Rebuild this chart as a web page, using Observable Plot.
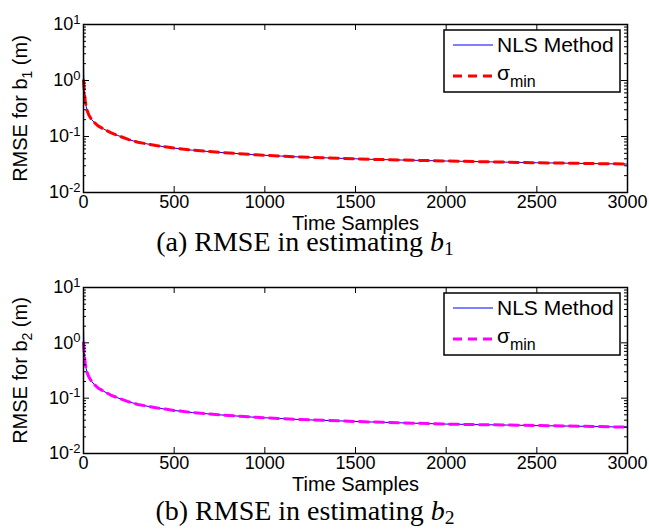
<!DOCTYPE html>
<html>
<head>
<meta charset="utf-8">
<script src="https://cdn.jsdelivr.net/npm/d3@7"></script>
<script src="https://cdn.jsdelivr.net/npm/@observablehq/plot@0.6"></script>
<style>
  html, body { margin: 0; padding: 0; background: white; }
  #wrap { position: relative; width: 649px; height: 531px; overflow: hidden; background: white; }
  .panel { position: absolute; left: 0; }
  .cap { position: absolute; left: 0; width: 610px; text-align: center; font-family: "Liberation Serif", "Times New Roman", serif; font-size: 28px; line-height: 24px; color: #000; white-space: nowrap; }
  .cap sub { font-size: 70%; vertical-align: -0.2em; line-height: 0; font-style: normal; }
</style>
</head>
<body>
<div id="wrap"></div>
<script>
// ---- data ----
const samples = [0, 1, 2, 4, 6, 10, 15, 20, 30, 45, 60, 80, 110, 150, 190, 250, 300, 400, 500, 600, 750, 950, 1200, 1600, 2000, 2500, 3000];
const nlsB1   = [2.1, 1.4, 1.0, 0.7, 0.56, 0.43, 0.34, 0.29, 0.24, 0.2, 0.178, 0.155, 0.137, 0.117, 0.104, 0.088, 0.079, 0.069, 0.062, 0.057, 0.052, 0.047, 0.043, 0.039, 0.0365, 0.034, 0.0322];
const sigB1   = [1.0, 0.9, 0.8, 0.66, 0.55, 0.43, 0.34, 0.29, 0.24, 0.2, 0.178, 0.155, 0.137, 0.117, 0.104, 0.088, 0.079, 0.069, 0.062, 0.057, 0.052, 0.047, 0.043, 0.039, 0.0365, 0.034, 0.0322];
const nlsB2   = [2.1, 1.4, 1.0, 0.7, 0.55, 0.42, 0.34, 0.29, 0.24, 0.2, 0.176, 0.153, 0.134, 0.114, 0.101, 0.086, 0.077, 0.067, 0.06, 0.055, 0.05, 0.045, 0.041, 0.037, 0.034, 0.032, 0.030];
const sigB2   = [1.0, 0.9, 0.8, 0.66, 0.55, 0.42, 0.34, 0.29, 0.24, 0.2, 0.176, 0.153, 0.134, 0.114, 0.101, 0.086, 0.077, 0.067, 0.06, 0.055, 0.05, 0.045, 0.041, 0.037, 0.034, 0.032, 0.030];
const xTicks = [0, 500, 1000, 1500, 2000, 2500, 3000];
const yTicks = [0.01, 0.1, 1, 10];
const yMinor = [0.02,0.03,0.04,0.05,0.06,0.07,0.08,0.09,0.2,0.3,0.4,0.5,0.6,0.7,0.8,0.9,2,3,4,5,6,7,8,9];
const seriesNames = ["NLS Method", "σ_min"];
const xLabel = "Time Samples";
const yLabels = ["RMSE for b_1 (m)", "RMSE for b_2 (m)"];
const captions = ["(a) RMSE in estimating <i>b</i><sub>1</sub>", "(b) RMSE in estimating <i>b</i><sub>2</sub>"];

const FONT = '"Liberation Sans", Arial, Helvetica, sans-serif';
const W = 649, ML = 83, MR = 22, MT = 24, MB = 42;

function subText(sel, str, subSize, shift) {
  const m = str.match(/^(.*?)_(\S+)(.*)$/);
  sel.text(null);
  if (!m) { sel.text(str); return; }
  sel.append("tspan").text(m[1]);
  sel.append("tspan").attr("font-size", subSize).attr("dy", shift).text(m[2]);
  if (m[3]) sel.append("tspan").attr("dy", -shift).text(m[3]);
}

function makePanel(nls, sig, dashColor, yLab, innerH) {
  const H = MT + innerH + MB;
  const innerW = W - ML - MR;
  const dN = samples.map((x, i) => ({x, y: nls[i]}));
  const dS = samples.map((x, i) => ({x, y: sig[i]}));
  const svg = Plot.plot({
    width: W, height: H, marginLeft: ML, marginRight: MR, marginTop: MT, marginBottom: MB,
    style: {fontFamily: FONT, fontSize: "18px", background: "white", color: "black", overflow: "visible"},
    x: {domain: [0, 3000]},
    y: {type: "log", domain: [0.01, 10]},
    marks: [
      Plot.lineY(dN, {x: "x", y: "y", stroke: "#0000ff", strokeWidth: 1}),
      Plot.lineY(dS, {x: "x", y: "y", stroke: dashColor, strokeWidth: 3, strokeDasharray: "9,6"}),
      Plot.tickY(yMinor, {y: d => d, insetRight: innerW - 3, stroke: "black", strokeWidth: 1}),
      Plot.tickY(yMinor, {y: d => d, insetLeft: innerW - 3, stroke: "black", strokeWidth: 1}),
      Plot.tickY(yTicks, {y: d => d, insetRight: innerW - 6, stroke: "black", strokeWidth: 1}),
      Plot.tickY(yTicks, {y: d => d, insetLeft: innerW - 6, stroke: "black", strokeWidth: 1}),
      Plot.tickX(xTicks, {x: d => d, insetBottom: innerH - 6, stroke: "black", strokeWidth: 1}),
      Plot.tickX(xTicks, {x: d => d, insetTop: innerH - 6, stroke: "black", strokeWidth: 1}),
      Plot.frame({stroke: "black", strokeWidth: 1.5}),
      Plot.axisX({ticks: xTicks, tickSize: 0, tickPadding: 3, label: null, fontSize: 18, tickFormat: d => String(d)}),
      Plot.axisY({ticks: yTicks, tickSize: 0, tickPadding: 3, label: null, fontSize: 18, tickFormat: d => "10^" + Math.round(Math.log10(d))}),
      Plot.text([xLabel], {frameAnchor: "bottom", dy: 23, lineAnchor: "top", textAnchor: "middle", text: d => d, fontSize: 20, fill: "black"}),
      Plot.text([yLab], {frameAnchor: "left", dx: -63, rotate: -90, textAnchor: "middle", lineAnchor: "middle", text: d => d, fontSize: 20, fill: "black"})
    ]
  });
  const s = d3.select(svg);
  s.selectAll('g[aria-label="y-axis tick label"] text').each(function() {
    const t = d3.select(this);
    const parts = t.text().split("^");
    if (parts.length === 2) {
      t.text(null);
      t.append("tspan").text(parts[0]);
      t.append("tspan").attr("font-size", 13).attr("dy", "-0.5em").text(parts[1]);
    }
  });
  s.selectAll("text").each(function() {
    const t = d3.select(this);
    const str = t.text();
    if (str === yLab) subText(t, str, 14, 5);
  });
  const lg = s.append("g").attr("font-family", FONT).attr("font-size", 21).attr("text-anchor", "start");
  const bx = 444, by = 30, bw = 176, bh = 62;
  lg.append("rect").attr("x", bx).attr("y", by).attr("width", bw).attr("height", bh)
    .attr("fill", "white").attr("stroke", "black").attr("stroke-width", 1.5);
  lg.append("line").attr("x1", 453).attr("x2", 493).attr("y1", 45).attr("y2", 45)
    .attr("stroke", "#0000ff").attr("stroke-width", 1);
  lg.append("text").attr("x", 497).attr("y", 52).attr("text-anchor", "start").text(seriesNames[0]);
  lg.append("line").attr("x1", 453).attr("x2", 494).attr("y1", 76).attr("y2", 76)
    .attr("stroke", dashColor).attr("stroke-width", 3).attr("stroke-dasharray", "9,6");
  const t2 = lg.append("text").attr("x", 497).attr("y", 80).attr("text-anchor", "start");
  const [base, sub] = seriesNames[1].split("_");
  t2.append("tspan").text(base);
  t2.append("tspan").attr("font-size", 16).attr("dy", 7).text(sub);
  return svg;
}

const wrap = document.getElementById("wrap");
const p1 = makePanel(nlsB1, sigB1, "#ff0000", yLabels[0], 168);
p1.classList.add("panel"); p1.style.top = "0px";
wrap.appendChild(p1);
const p2 = makePanel(nlsB2, sigB2, "#ff00ff", yLabels[1], 166);
p2.classList.add("panel"); p2.style.top = "263px";
wrap.appendChild(p2);

[[captions[0], 230], [captions[1], 499]].forEach(([html, top]) => {
  const d = document.createElement("div");
  d.className = "cap";
  d.style.top = top + "px";
  d.innerHTML = html;
  wrap.appendChild(d);
});
</script>
</body>
</html>
